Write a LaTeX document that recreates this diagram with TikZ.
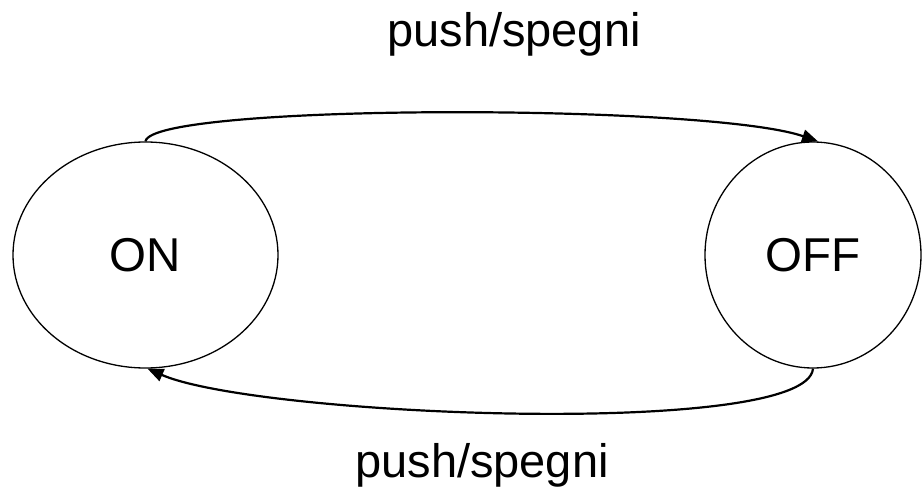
\documentclass[tikz,border=0pt]{standalone}
\usepackage{fontspec}
\setmainfont{Liberation Sans}
\usetikzlibrary{shapes.geometric,arrows.meta}
\begin{document}
\begin{tikzpicture}[x=1pt,y=-1pt,
  state/.style={draw,ellipse,line width=1.3pt,inner sep=0pt,font=\fontsize{47.5}{50}\selectfont},
  trans/.style={line width=2.2pt,-{Triangle[length=16pt,width=13pt]}},
  lbl/.style={font=\fontsize{47}{50}\selectfont,anchor=base}]
\useasboundingbox (0,0) rectangle (922,487);
\node[state,minimum width=265pt,minimum height=226pt] (on) at (145.5,255) {ON};
\node[state,minimum width=216pt,minimum height=226pt] (off) at (813,255) {OFF};
\coordinate (offtop) at ([xshift=5pt]off.north);
\draw[trans] (on.north) .. controls +(6,-38) and +(-110,-38) .. (offtop);
\draw[trans] (off.south) .. controls +(-6,70) and +(110,48) .. ([xshift=2pt]on.south);
\node[lbl] (top) at (514,47) {push/spegni};
\node[lbl] (bot) at (482,477) {push/spegni};
\end{tikzpicture}
\end{document}
